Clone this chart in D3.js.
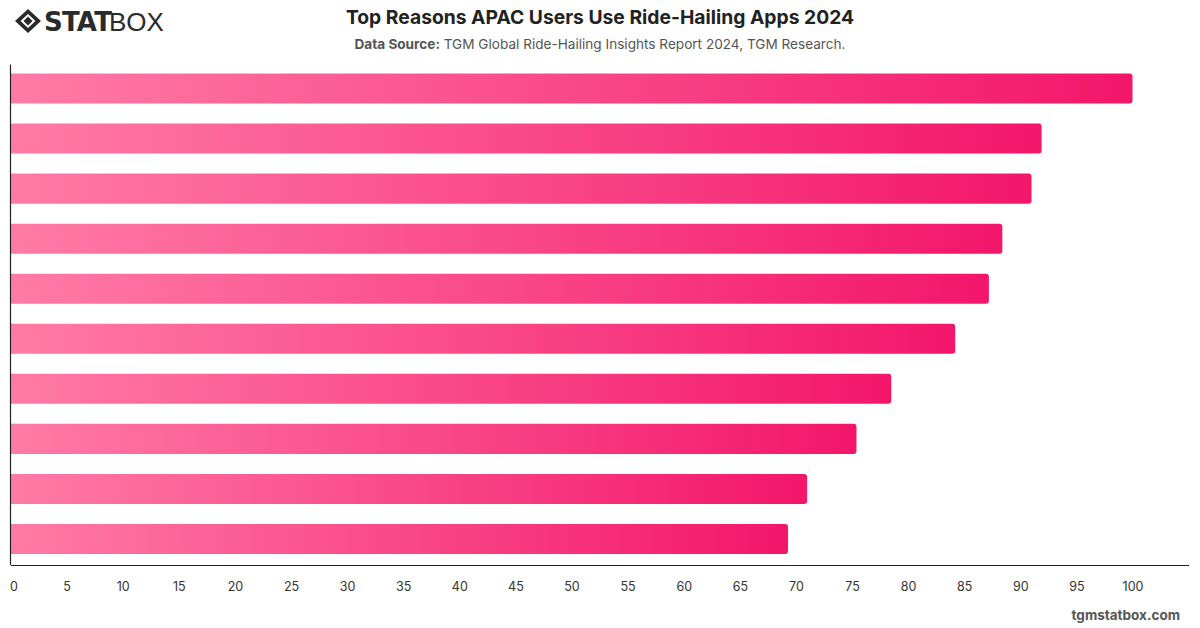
<!DOCTYPE html>
<html>
<head>
<meta charset="utf-8">
<script src="https://cdn.jsdelivr.net/npm/d3@7"></script>
<style>
  html, body { margin: 0; padding: 0; background: #fff; }
  svg { display: block; font-family: "Inter", "Liberation Sans", sans-serif; }
</style>
</head>
<body>
<svg id="chart" width="1200" height="628"></svg>
<script>
// Data
const categories = [
  "Convenience", "Ease of booking", "Price transparency", "Safety",
  "Availability", "Cashless payment", "Cheaper than taxis",
  "Reliability", "Comfort", "Loyalty rewards"
];
const values = [100, 91.9, 91.0, 88.4, 87.2, 84.2, 78.5, 75.4, 71.0, 69.3];
const tickValues = [0, 5, 10, 15, 20, 25, 30, 35, 40, 45, 50, 55, 60, 65, 70, 75, 80, 85, 90, 95, 100];

const title = "Top Reasons APAC Users Use Ride-Hailing Apps 2024";
const sourceLabel = "Data Source:";
const sourceText = " TGM Global Ride-Hailing Insights Report 2024, TGM Research.";

(function () {
const svg = d3.select("#chart");
const mLeft = 10.5, mRight = 1188.6, mTop = 64.5, mBottom = 565;

const x = d3.scaleLinear().domain([0, 105]).range([mLeft, mRight]);
const y = d3.scaleBand().domain(categories).range([mTop - 1, mBottom - 1]).paddingInner(0.4).paddingOuter(0.2);

// gradient
const defs = svg.append("defs");
const grad = defs.append("linearGradient").attr("id", "barGrad")
  .attr("x1", "0%").attr("x2", "100%").attr("y1", "0%").attr("y2", "0%");
grad.append("stop").attr("offset", "0%").attr("stop-color", "#ff7ba6");
grad.append("stop").attr("offset", "100%").attr("stop-color", "#f3166a");

// title
svg.append("text").attr("x", 600).attr("y", 24).attr("text-anchor", "middle")
  .attr("font-size", 19.3).attr("font-weight", 700).attr("fill", "#222")
  .text(title);
const sub = svg.append("text").attr("x", 600).attr("y", 49).attr("text-anchor", "middle")
  .attr("font-size", 13.6).attr("fill", "#555");
sub.append("tspan").attr("font-weight", 700).text(sourceLabel);
sub.append("tspan").text(sourceText);

// bars with rounded right end
const r = 3;
function barPath(x0, x1, y0, h) {
  return `M${x0},${y0} H${x1 - r} Q${x1},${y0} ${x1},${y0 + r} V${y0 + h - r} Q${x1},${y0 + h} ${x1 - r},${y0 + h} H${x0} Z`;
}
svg.append("g").selectAll("path").data(values).join("path")
  .attr("d", (d, i) => barPath(x(0), x(d), y(categories[i]), y.bandwidth()))
  .attr("fill", "url(#barGrad)");

// axes
const xAxis = d3.axisBottom(x).tickValues(tickValues).tickSize(0).tickPadding(17);
const gx = svg.append("g").attr("transform", `translate(0,${mBottom})`).call(xAxis);
gx.select(".domain").attr("stroke", "#222").attr("stroke-width", 1.2);
gx.selectAll("text").attr("font-size", 12.5).attr("fill", "#333")
  .attr("font-family", "Inter, 'Liberation Sans', sans-serif");
gx.selectAll(".tick").filter(d => d === 0).select("text").attr("dx", 3);

const yAxis = d3.axisLeft(y).tickSize(0).tickFormat("");
const gy = svg.append("g").attr("transform", `translate(${mLeft},0)`).call(yAxis);
gy.select(".domain").attr("d", `M0,${mTop}V${mBottom}`).attr("stroke", "#222").attr("stroke-width", 1.2);

// footer
svg.append("text").attr("x", 1180).attr("y", 620).attr("text-anchor", "end")
  .attr("font-size", 13.5).attr("font-weight", 700).attr("fill", "#555")
  .text("tgmstatbox.com");

// logo
const logo = svg.append("g");
logo.append("path")
  .attr("d", "M28,9 L41,21 L28,33 L15,21 Z M28,14 L35.5,21 L28,28 L20.5,21 Z")
  .attr("fill", "#2a2a2a").attr("fill-rule", "evenodd");
logo.append("path").attr("d", "M28,16.5 L32.5,21 L28,25.5 L23.5,21 Z").attr("fill", "#2a2a2a");
logo.append("text").attr("x", 44).attr("y", 31).attr("font-size", 26).attr("font-weight", 900)
  .attr("fill", "#2a2a2a").attr("font-family", "'DejaVu Sans', sans-serif").attr("letter-spacing", -0.8).text("STAT");
logo.append("text").attr("x", 109).attr("y", 31).attr("font-size", 26).attr("font-weight", 300)
  .attr("fill", "#2a2a2a").attr("font-family", "'Liberation Sans', sans-serif").text("BOX");
})();
</script>
</body>
</html>
